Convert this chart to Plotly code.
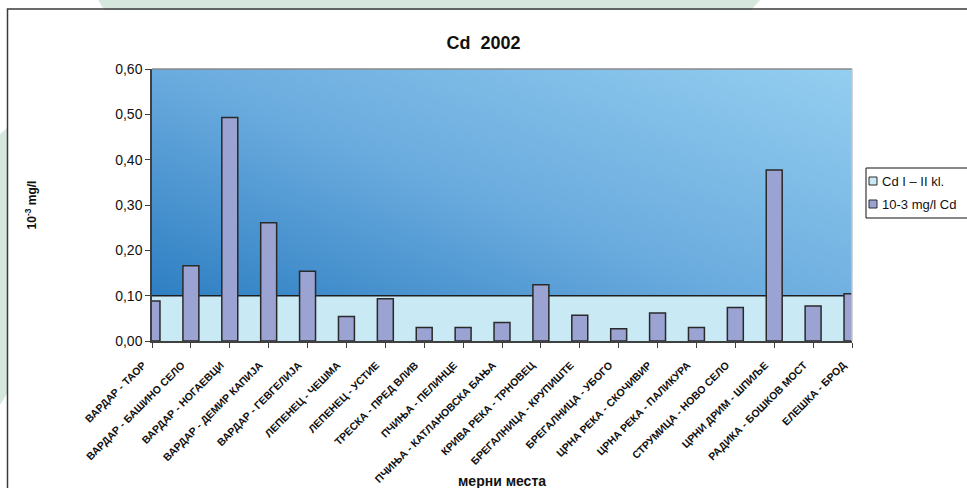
import numpy as np
import plotly.graph_objects as go

# Monitoring stations (measuring points)
stations = [
    "ВАРДАР - ТАОР",
    "ВАРДАР - БАШИНО СЕЛО",
    "ВАРДАР - НОГАЕВЦИ",
    "ВАРДАР - ДЕМИР КАПИЈА",
    "ВАРДАР - ГЕВГЕЛИЈА",
    "ЛЕПЕНЕЦ - ЧЕШМА",
    "ЛЕПЕНЕЦ - УСТИЕ",
    "ТРЕСКА - ПРЕД ВЛИВ",
    "ПЧИЊА - ПЕЛИНЦЕ",
    "ПЧИЊА - КАТЛАНОВСКА БАЊА",
    "КРИВА РЕКА - ТРНОВЕЦ",
    "БРЕГАЛНИЦА - КРУПИШТЕ",
    "БРЕГАЛНИЦА - УБОГО",
    "ЦРНА РЕКА - СКОЧИВИР",
    "ЦРНА РЕКА - ПАЛИКУРА",
    "СТРУМИЦА - НОВО СЕЛО",
    "ЦРНИ ДРИМ - ШПИЉЕ",
    "РАДИКА - БОШКОВ МОСТ",
    "ЕЛЕШКА - БРОД",
]

# Measured cadmium, 10^-3 mg/l
cd_measured = [0.088, 0.166, 0.493, 0.261, 0.154, 0.054, 0.093, 0.030, 0.030, 0.041,
               0.124, 0.057, 0.027, 0.062, 0.030, 0.074, 0.377, 0.077, 0.104]

# Class I-II limit for Cd at each station
cd_class_limit = [0.10, 0.10, 0.10, 0.10, 0.10, 0.10, 0.10, 0.10, 0.10, 0.10,
                  0.10, 0.10, 0.10, 0.10, 0.10, 0.10, 0.10, 0.10, 0.10]

y_ticks = [0.0, 0.1, 0.2, 0.3, 0.4, 0.5, 0.6]

series_names = ["Cd I – II kl.", "10-3 mg/l Cd"]

FONT = "Arial, Liberation Sans, sans-serif"
W, H = 967, 488
ML, MR, MT, MB = 152, 115, 69, 147
PW, PH = W - ML - MR, H - MT - MB

LIMIT_FILL = "rgb(201,233,245)"
BAR_FILL = "rgb(155,163,211)"
EDGE = "#2a2a2a"

idx = list(range(len(stations)))
x_last = idx[-1]
y_top = y_ticks[-1]


def px_x(px):
    return (px - ML) / PW


def px_y(py):
    return (H - MB - py) / PH


# Diagonal blue gradient filling the plotting area
gx = np.linspace(0, x_last, 60)
gy = np.linspace(0, y_top, 40)
GX, GY = np.meshgrid(gx / x_last, gy / y_top)
grad = 0.5 * GX + 0.5 * GY

fig = go.Figure()
fig.add_trace(go.Heatmap(
    x=gx, y=gy, z=grad, zsmooth="best", showscale=False, hoverinfo="skip",
    zmin=0, zmax=1,
    colorscale=[[0.0, "rgb(34,118,189)"], [0.5, "rgb(106,171,222)"], [1.0, "rgb(148,206,240)"]],
    showlegend=False,
))

fig.add_trace(go.Scatter(
    x=idx, y=cd_class_limit, mode="lines", fill="tozeroy",
    fillcolor=LIMIT_FILL, line=dict(color="#1e1e1e", width=1.5),
    name=series_names[0], hoverinfo="skip", showlegend=False,
))

fig.add_trace(go.Bar(
    x=idx, y=cd_measured, xaxis="x2", width=0.41,
    marker=dict(color=BAR_FILL, line=dict(color=EDGE, width=1.5)),
    name=series_names[1], showlegend=False,
))

green = "#D6E7DE"
top_strip = (f"M {px_x(97)},{px_y(-2)} L {px_x(762)},{px_y(-2)} "
             f"L {px_x(751)},{px_y(10)} L {px_x(104)},{px_y(10)} Z")
left_strip = (f"M {px_x(-2)},{px_y(136)} L {px_x(8)},{px_y(127)} "
              f"L {px_x(8)},{px_y(392)} L {px_x(-2)},{px_y(408)} Z")

shapes = [
    dict(type="path", path=top_strip, xref="paper", yref="paper",
         fillcolor=green, line=dict(width=0), layer="below"),
    dict(type="path", path=left_strip, xref="paper", yref="paper",
         fillcolor=green, line=dict(width=0), layer="below"),
    # outer frame of the chart
    dict(type="rect", xref="paper", yref="paper",
         x0=px_x(7.5), y0=px_y(520), x1=px_x(990), y1=px_y(9),
         line=dict(color="#3a3a3a", width=1.5), fillcolor="rgba(0,0,0,0)", layer="below"),
    # plot-area border (top and right)
    dict(type="line", xref="paper", yref="paper", x0=0, x1=1, y0=1, y1=1,
         line=dict(color="#8a8a8a", width=1.5), layer="above"),
    dict(type="line", xref="paper", yref="paper", x0=1, x1=1, y0=0, y1=1,
         line=dict(color="#c4c4c4", width=1.5), layer="above"),
]

# Legend box with square keys
LEG_X, LEG_Y0, LEG_Y1 = 866, 168, 218
row_y = [181, 204]
key_fill = [LIMIT_FILL, BAR_FILL]
shapes.append(dict(type="rect", xref="paper", yref="paper",
                   x0=px_x(LEG_X), x1=px_x(1000), y0=px_y(LEG_Y1), y1=px_y(LEG_Y0),
                   line=dict(color="#111", width=1), fillcolor="white", layer="above"))
annotations = []
for ry, fc, nm in zip(row_y, key_fill, series_names):
    shapes.append(dict(type="rect", xref="paper", yref="paper",
                       x0=px_x(LEG_X + 3), x1=px_x(LEG_X + 11),
                       y0=px_y(ry + 4), y1=px_y(ry - 4),
                       line=dict(color=EDGE, width=1), fillcolor=fc, layer="above"))
    annotations.append(dict(text=nm, xref="paper", yref="paper",
                            x=px_x(LEG_X + 14), y=px_y(ry), xanchor="left", yanchor="middle",
                            showarrow=False, font=dict(family=FONT, size=13, color="#111")))

annotations.append(dict(text="мерни места", xref="paper", yref="paper", x=0.5, y=px_y(481),
                        xanchor="center", yanchor="middle", showarrow=False,
                        font=dict(family=FONT, size=14, weight="bold", color="#111")))

fig.update_layout(
    width=W, height=H,
    margin=dict(l=ML, r=MR, t=MT, b=MB, autoexpand=False),
    paper_bgcolor="white", plot_bgcolor="white",
    separators=", ",
    font=dict(family=FONT, color="#000"),
    title=dict(text="Cd  2002", x=0.5, xanchor="center", xref="container",
               y=1 - 43 / H, yanchor="middle", yref="container",
               font=dict(family=FONT, size=18, weight="bold", color="#111")),
    xaxis=dict(
        range=[0, x_last], tickmode="array", tickvals=idx, ticktext=stations,
        tickangle=-45, tickfont=dict(family=FONT, size=10.5, weight="bold", color="#111"),
        ticks="outside", ticklen=5, tickcolor="#404040", tickwidth=1,
        ticklabelshift=-9, ticklabelstandoff=7,
        showline=True, linecolor="#404040", linewidth=2, showgrid=False, zeroline=False,
    ),
    xaxis2=dict(range=[0, x_last], overlaying="x", visible=False),
    yaxis=dict(
        range=[0, y_top], tickmode="array", tickvals=y_ticks, tickformat=".2f",
        tickfont=dict(family=FONT, size=14, color="#111"),
        ticks="outside", ticklen=5, tickcolor="#404040",
        showline=True, linecolor="#404040", linewidth=1.5, showgrid=False, zeroline=False,
        title=dict(text="10<sup>-3</sup> mg/l", standoff=76,
                   font=dict(family=FONT, size=12, weight="bold", color="#111")),
    ),
    barmode="overlay",
    showlegend=False,
    shapes=shapes,
    annotations=annotations,
)

fig.write_html("out.html")
